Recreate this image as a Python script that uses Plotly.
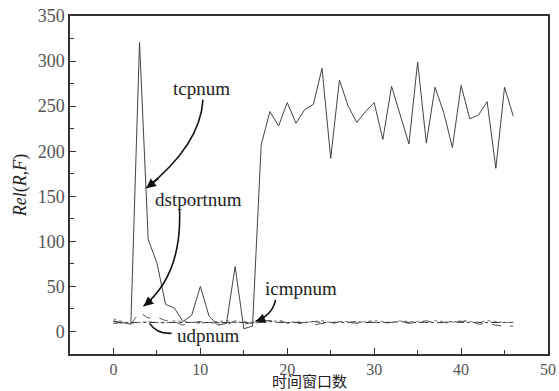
import plotly.graph_objects as go

# ---------------- data ----------------
windows = list(range(0, 47))
tcpnum = [11, 10, 8, 321, 102, 76, 30, 26, 11, 18, 50, 17, 7, 9, 72, 3, 6,
          207, 244, 228, 254, 231, 246, 252, 292, 192, 279, 250, 232, 244, 254,
          213, 272, 239, 208, 299, 209, 271, 243, 204, 273, 236, 240, 255, 181,
          271, 239]
dstportnum = [12, 9, 8, 21, 15, 16, 12, 11, 7, 10, 11, 9, 10, 7, 12, 8, 10,
              12, 12, 13, 9, 8, 10, 7, 9, 8, 11, 10, 9, 11, 10, 9, 10, 11, 9,
              10, 12, 9, 10, 9, 11, 12, 8, 9, 7, 6, 6]
udpnum = [9, 10, 10, 10, 10, 10, 10, 10, 10, 10, 10, 10, 10, 10, 10, 10, 10,
          10, 11, 10, 10, 10, 10, 11, 10, 10, 10, 10, 11, 10, 10, 10, 10, 11,
          10, 10, 10, 10, 10, 11, 10, 10, 10, 10, 10, 10, 10]
icmpnum = [14, 11, 9, 10, 11, 10, 9, 12, 11, 10, 9, 10, 11, 12, 10, 11, 9,
           10, 11, 12, 10, 11, 10, 11, 12, 10, 11, 11, 10, 11, 12, 11, 10, 12,
           11, 11, 10, 12, 11, 10, 12, 11, 10, 12, 11, 10, 10]

x_ticks = [0, 10, 20, 30, 40, 50]
y_ticks = [0, 50, 100, 150, 200, 250, 300, 350]
x_title = "时间窗口数"

# annotation labels: (text, text position, curve start, control, arrow tip)
labels = [
    ("tcpnum",     (10.1, 270), (10.3, 257), (10.0, 207), (3.77, 159)),
    ("dstportnum", (9.8, 146),  (7.6, 135),  (7.9, 63),   (3.46, 28)),
    ("icmpnum",    (21.6, 48),  (18.65, 35), (18.3, 18),  (16.35, 11)),
    ("udpnum",     (10.9, -5),  (6.7, -2),   (5.0, -3),   (4.15, 9)),
]

serif = "Liberation Serif"
W, H = 559, 391
ML, MR, MT, MB = 70, 11, 16, 37

fig = go.Figure()
fig.add_trace(go.Scatter(x=windows, y=udpnum, mode="lines", name="udpnum",
                         line=dict(color="#333333", width=1, dash="dashdot")))
fig.add_trace(go.Scatter(x=windows, y=icmpnum, mode="lines", name="icmpnum",
                         line=dict(color="#777777", width=1, dash="dot")))
fig.add_trace(go.Scatter(x=windows, y=dstportnum, mode="lines", name="dstportnum",
                         line=dict(color="#555555", width=1, dash="dash")))
fig.add_trace(go.Scatter(x=windows, y=tcpnum, mode="lines", name="tcpnum",
                         line=dict(color="#444444", width=1)))

for text, tpos, start, ctrl, tip in labels:
    fig.add_annotation(x=tpos[0], y=tpos[1], text=text, showarrow=False,
                       xref="x", yref="y",
                       font=dict(family=serif, size=19, color="#222222"))
    fig.add_shape(type="path",
                  path=f"M {start[0]},{start[1]} Q {ctrl[0]},{ctrl[1]} {tip[0]},{tip[1]}",
                  xref="x", yref="y", line=dict(color="#111111", width=1.6))
    ax = tip[0] + 0.25 * (ctrl[0] - tip[0])
    ay = tip[1] + 0.25 * (ctrl[1] - tip[1])
    fig.add_annotation(x=tip[0], y=tip[1], ax=ax, ay=ay, xref="x", yref="y",
                       axref="x", ayref="y", text="", showarrow=True,
                       arrowhead=2, arrowsize=1.2, arrowwidth=1.6,
                       arrowcolor="#111111", standoff=0)

# x-axis title, placed at the bottom edge of the figure
plot_h = H - MT - MB
fig.add_annotation(x=0.5, y=-MB / plot_h, xref="paper", yref="paper",
                   xanchor="center", yanchor="bottom", yshift=-2,
                   text=x_title, showarrow=False,
                   font=dict(family="Noto Sans CJK SC", size=15, color="#222222"))

axis_common = dict(showline=True, linecolor="#333333", linewidth=1.5, mirror=True,
                   showgrid=False, zeroline=False, ticks="inside", ticklen=6,
                   tickwidth=1.3, tickcolor="#333333")

fig.update_xaxes(range=[-5, 50], tickvals=x_ticks,
                 tickfont=dict(family=serif, size=16, color="#555555"),
                 minor=dict(ticks="inside", dtick=5, tick0=0, ticklen=4,
                            tickcolor="#333333", tickwidth=1.2),
                 automargin=False, **axis_common)
fig.update_yaxes(range=[-25, 350], tickvals=y_ticks,
                 tickfont=dict(family=serif, size=18, color="#555555"),
                 minor=dict(ticks="inside", dtick=25, tick0=0, ticklen=4,
                            tickcolor="#333333", tickwidth=1.2),
                 title=dict(text="<i>Rel</i>(<i>R</i>,<i>F</i>)", standoff=6,
                            font=dict(family=serif, size=18, color="#222222")),
                 automargin=False, **axis_common)

fig.update_layout(width=W, height=H, showlegend=False,
                  margin=dict(l=ML, r=MR, t=MT, b=MB),
                  paper_bgcolor="white", plot_bgcolor="white")

fig.write_html("out.html", config={"displayModeBar": False},
               post_script="document.body.style.margin='0';")
